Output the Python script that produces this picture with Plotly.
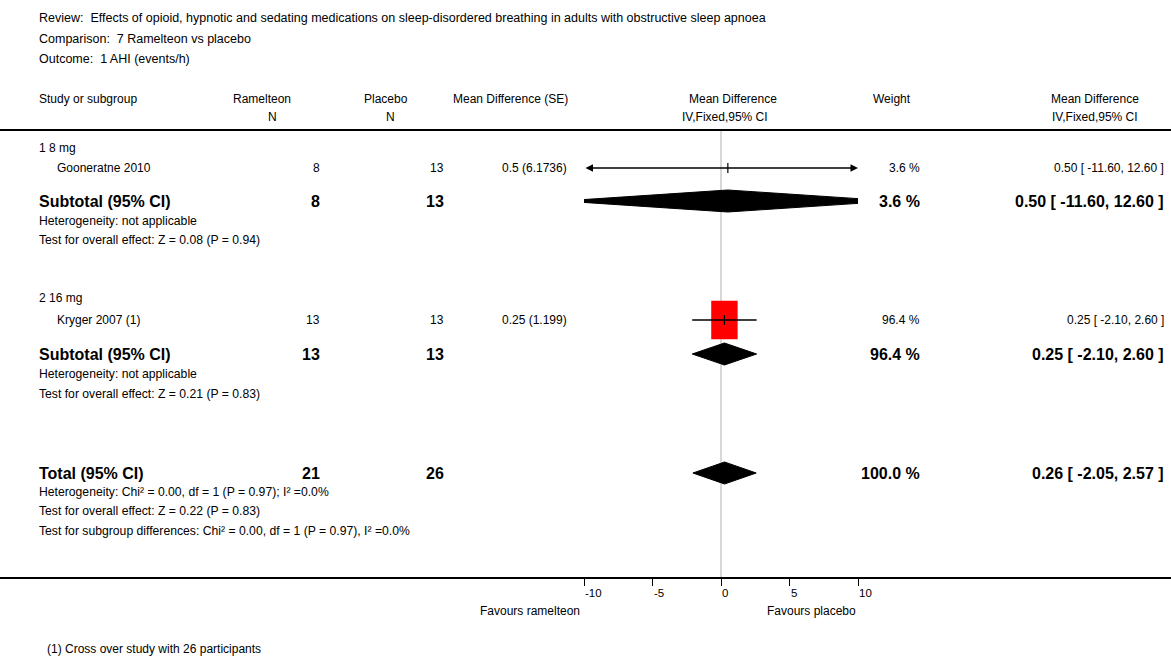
import plotly.graph_objects as go

# ---------------- data ----------------
title_lines = [
    "Review:  Effects of opioid, hypnotic and sedating medications on sleep-disordered breathing in adults with obstructive sleep apnoea",
    "Comparison:  7 Ramelteon vs placebo",
    "Outcome:  1 AHI (events/h)",
]
subgroups = ["1 8 mg", "2 16 mg"]
studies = ["Gooneratne 2010", "Kryger 2007 (1)"]
ram_n = [8, 13]
pla_n = [13, 13]
md = [0.5, 0.25]
se = [6.1736, 1.199]
ci_lo = [-11.60, -2.10]
ci_hi = [12.60, 2.60]
weight = [3.6, 96.4]

sub_ram_n = [8, 13]
sub_pla_n = [13, 13]
sub_md = [0.50, 0.25]
sub_lo = [-11.60, -2.10]
sub_hi = [12.60, 2.60]
sub_w = [3.6, 96.4]
sub_het = ["Heterogeneity: not applicable", "Heterogeneity: not applicable"]
sub_test = ["Test for overall effect: Z = 0.08 (P = 0.94)",
            "Test for overall effect: Z = 0.21 (P = 0.83)"]

tot_ram_n = 21
tot_pla_n = 26
tot_md = 0.26
tot_lo = -2.05
tot_hi = 2.57
tot_w = 100.0
tot_notes = [
    "Heterogeneity: Chi² = 0.00, df = 1 (P = 0.97); I² =0.0%",
    "Test for overall effect: Z = 0.22 (P = 0.83)",
    "Test for subgroup differences: Chi² = 0.00, df = 1 (P = 0.97), I² =0.0%",
]
axis_ticks = [-10, -5, 0, 5, 10]
favours = ["Favours ramelteon", "Favours placebo"]
footnote = "(1) Cross over study with 26 participants"

# ---------------- layout / style ----------------
W, H = 1171, 657
FONT = "Liberation Sans Narrow, Arial Narrow, Liberation Sans, Arial, sans-serif"
XMIN, XMAX = -10, 10
PX_X0, PX_X1 = 584, 858          # pixel span of the forest axis
AXIS_Y = 578
HEAD_LINE_Y = 130


def px(x):
    return x / W


# row y positions (pixels from top)
Y_TITLE = [18, 39, 59]
Y_HEAD1, Y_HEAD2 = 99, 117
Y_SUBHEAD = [148, 298]
Y_STUDY = [168, 320]
Y_SUB = [201, 354]
Y_SUBHET = [221, 374]
Y_SUBTEST = [240, 394]
Y_TOT = 473
Y_TOTNOTES = [492, 511, 531]
Y_TICKLBL = 593
Y_FAV = 611
Y_FOOT = 649

# column x positions (pixels)
X_LEFT = 37
X_STUDY = 55
X_RAM = 322
X_PLA = 446
X_SE = 569
X_WT = 922
X_CI = 1166

BOX_HW = 1.0    # half width in data units for 100% weight
BOX_HH = 20     # half height in px for 100% weight
DIA_HH = 11

fig = go.Figure()


def ann(text, x, y, anchor="left", size=12, bold=False, color="black"):
    fig.add_annotation(
        text=f"<b>{text}</b>" if bold else text,
        x=px(x), xref="paper", y=y, yref="y",
        xanchor=anchor, yanchor="middle", showarrow=False,
        font=dict(family=FONT, size=size, color=color),
    )


# titles
for t, y in zip(title_lines, Y_TITLE):
    ann(t, X_LEFT, y, size=12.5)

# headers
ann("Study or subgroup", X_LEFT, Y_HEAD1)
ann("Ramelteon", 262, Y_HEAD1, "center")
ann("N", 272, Y_HEAD2, "center")
ann("Placebo", 386, Y_HEAD1, "center")
ann("N", 390, Y_HEAD2, "center")
ann("Mean Difference (SE)", 510, Y_HEAD1, "center")
ann("Mean Difference", 733, Y_HEAD1, "center")
ann("IV,Fixed,95% CI", 725, Y_HEAD2, "center")
ann("Weight", 892, Y_HEAD1, "center")
ann("Mean Difference", 1141, Y_HEAD1, "right")
ann("IV,Fixed,95% CI", 1140, Y_HEAD2, "right")

BIG = 16
NOTE = 12.2
for i in range(len(studies)):
    ann(subgroups[i], X_LEFT, Y_SUBHEAD[i])
    ys = Y_STUDY[i]
    ann(studies[i], X_STUDY, ys)
    ann(str(ram_n[i]), X_RAM, ys, "right")
    ann(str(pla_n[i]), X_PLA, ys, "right")
    ann(f"{md[i]:g} ({se[i]:g})", X_SE, ys, "right")
    ann(f"{weight[i]:.1f} %", X_WT, ys, "right")
    ann(f"{md[i]:.2f} [ {ci_lo[i]:.2f}, {ci_hi[i]:.2f} ]", X_CI, ys, "right")

    yb = Y_SUB[i]
    ann("Subtotal (95% CI)", X_LEFT, yb, size=BIG, bold=True)
    ann(str(sub_ram_n[i]), X_RAM, yb, "right", size=BIG, bold=True)
    ann(str(sub_pla_n[i]), X_PLA, yb, "right", size=BIG, bold=True)
    ann(f"{sub_w[i]:.1f} %", X_WT, yb, "right", size=BIG, bold=True)
    ann(f"{sub_md[i]:.2f} [ {sub_lo[i]:.2f}, {sub_hi[i]:.2f} ]", X_CI, yb, "right", size=BIG, bold=True)
    ann(sub_het[i], X_LEFT, Y_SUBHET[i], size=NOTE)
    ann(sub_test[i], X_LEFT, Y_SUBTEST[i], size=NOTE)

ann("Total (95% CI)", X_LEFT, Y_TOT, size=BIG, bold=True)
ann(str(tot_ram_n), X_RAM, Y_TOT, "right", size=BIG, bold=True)
ann(str(tot_pla_n), X_PLA, Y_TOT, "right", size=BIG, bold=True)
ann(f"{tot_w:.1f} %", X_WT, Y_TOT, "right", size=BIG, bold=True)
ann(f"{tot_md:.2f} [ {tot_lo:.2f}, {tot_hi:.2f} ]", X_CI, Y_TOT, "right", size=BIG, bold=True)
for t, y in zip(tot_notes, Y_TOTNOTES):
    ann(t, X_LEFT, y, size=NOTE)

ann(favours[0], 530, Y_FAV, "center")
ann(favours[1], 811, Y_FAV, "center")
ann(footnote, 45, Y_FOOT)

# axis tick labels (left-aligned at each tick, as in the original)
for t in axis_ticks:
    fig.add_annotation(text=str(t), x=t, xref="x", y=Y_TICKLBL, yref="y",
                       xanchor="left", yanchor="middle", showarrow=False, xshift=-1,
                       font=dict(family=FONT, size=11.5, color="black"))

# ---------------- forest marks ----------------
# study boxes (size proportional to weight)
for i in range(len(studies)):
    hw = BOX_HW * weight[i] / 100
    hh = BOX_HH * weight[i] / 100
    if hw > 0.15:
        fig.add_trace(go.Scatter(
            x=[md[i] - hw, md[i] + hw, md[i] + hw, md[i] - hw, md[i] - hw],
            y=[Y_STUDY[i] - hh, Y_STUDY[i] - hh, Y_STUDY[i] + hh, Y_STUDY[i] + hh, Y_STUDY[i] - hh],
            fill="toself", fillcolor="#ff0000", mode="lines",
            line=dict(color="#ff0000", width=0), hoverinfo="skip", showlegend=False))

# CI lines (with arrows when clipped by the axis)
for i in range(len(studies)):
    lo = max(ci_lo[i], XMIN)
    hi = min(ci_hi[i], XMAX)
    clip_lo = ci_lo[i] < XMIN
    clip_hi = ci_hi[i] > XMAX
    if clip_lo or clip_hi:
        side = "+".join([s for s, c in (("end", clip_hi), ("start", clip_lo)) if c])
        fig.add_annotation(x=hi, y=Y_STUDY[i], ax=lo, ay=Y_STUDY[i],
                           xref="x", yref="y", axref="x", ayref="y",
                           text="", showarrow=True, arrowside=side,
                           arrowhead=2, arrowsize=1.0, arrowwidth=1.5, arrowcolor="black")
    else:
        fig.add_trace(go.Scatter(x=[lo, hi], y=[Y_STUDY[i], Y_STUDY[i]], mode="lines",
                                 line=dict(color="black", width=1.5),
                                 hoverinfo="skip", showlegend=False))
    fig.add_trace(go.Scatter(x=[md[i], md[i]], y=[Y_STUDY[i] - 5, Y_STUDY[i] + 5], mode="lines",
                             line=dict(color="black", width=1.2),
                             hoverinfo="skip", showlegend=False))


def diamond(est, lo, hi, y):
    fig.add_trace(go.Scatter(
        x=[lo, est, hi, est, lo], y=[y, y - DIA_HH, y, y + DIA_HH, y],
        fill="toself", fillcolor="black", mode="lines",
        line=dict(color="black", width=1), hoverinfo="skip", showlegend=False))


for i in range(len(subgroups)):
    diamond(sub_md[i], sub_lo[i], sub_hi[i], Y_SUB[i])
diamond(tot_md, tot_lo, tot_hi, Y_TOT)

# reference lines
fig.add_shape(type="line", xref="x", yref="y", x0=0, x1=0, y0=HEAD_LINE_Y, y1=AXIS_Y,
              line=dict(color="#b0b0b0", width=1), layer="below")
for y in (HEAD_LINE_Y, AXIS_Y):
    fig.add_shape(type="line", xref="paper", yref="y", x0=0, x1=1, y0=y, y1=y,
                  line=dict(color="black", width=2))

fig.update_layout(
    width=W, height=H, autosize=False, margin=dict(l=0, r=0, t=0, b=0),
    paper_bgcolor="white", plot_bgcolor="rgba(0,0,0,0)",
    showlegend=False,
    xaxis=dict(domain=[px(PX_X0), px(PX_X1)], range=[XMIN, XMAX],
               anchor="free", position=(H - AXIS_Y) / H,
               tickvals=axis_ticks, showticklabels=False,
               ticks="outside", ticklen=7, tickwidth=1, tickcolor="black",
               showgrid=False, zeroline=False, showline=False),
    yaxis=dict(domain=[0, 1], range=[H, 0], visible=False, showgrid=False, zeroline=False),
    font=dict(family=FONT, color="black"),
)

post = (
    "document.documentElement.style.margin='0';"
    "document.body.style.margin='0';document.body.style.padding='0';"
    "document.body.style.overflow='hidden';"
    "var gd=document.getElementById('{plot_id}');"
    "gd.style.position='absolute';gd.style.left='0px';gd.style.top='0px';"
    f"Plotly.relayout(gd,{{width:{W},height:{H},autosize:false}});"
)
fig.write_html("out.html",
               config={"displayModeBar": False, "responsive": False},
               default_width=f"{W}px", default_height=f"{H}px",
               post_script=post)
